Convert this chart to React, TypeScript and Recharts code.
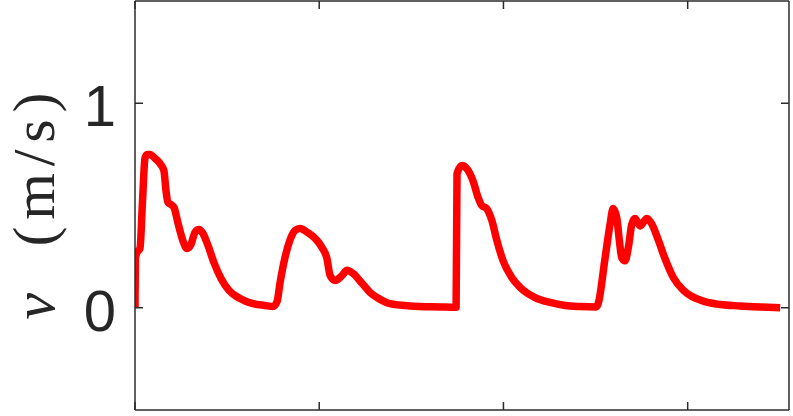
import React from 'react';
import { LineChart, Line, XAxis, YAxis } from 'recharts';

const timeValues = [
  0, 0.003, 0.011, 0.027, 0.041, 0.054, 0.065, 0.081, 0.109, 0.136, 0.157, 0.168, 0.179, 0.195, 0.212,
  0.233, 0.261, 0.282, 0.304, 0.326, 0.347, 0.369, 0.396, 0.429, 0.467, 0.51, 0.57, 0.635, 0.706, 0.749,
  0.771, 0.787, 0.814, 0.841, 0.869, 0.896, 0.934, 0.977, 1.015, 1.042, 1.059, 1.086, 1.124, 1.151, 1.184,
  1.232, 1.276, 1.314, 1.384, 1.493, 1.656, 1.743,
  1.748, 1.774, 1.801, 1.835, 1.862, 1.882, 1.909, 1.937, 1.964, 1.998, 2.045, 2.09, 2.172, 2.253, 2.335,
  2.416, 2.503,
  2.514, 2.552, 2.579, 2.595, 2.615, 2.629, 2.642, 2.66, 2.678, 2.697, 2.714, 2.742, 2.778, 2.805, 2.841,
  2.877, 2.922, 2.977, 3.013, 3.094, 3.176, 3.284, 3.393, 3.502,
];

const velocityValues = [
  0, 0.246, 0.27, 0.29, 0.525, 0.73, 0.75, 0.75, 0.73, 0.705, 0.67, 0.575, 0.515, 0.505, 0.49,
  0.415, 0.325, 0.29, 0.31, 0.37, 0.383, 0.363, 0.305, 0.22, 0.143, 0.085, 0.045, 0.021, 0.011, 0.006,
  0.03, 0.12, 0.245, 0.33, 0.378, 0.388, 0.37, 0.34, 0.295, 0.24, 0.158, 0.133, 0.158, 0.183, 0.167,
  0.12, 0.075, 0.05, 0.02, 0.009, 0.004, 0.002,
  0.655, 0.695, 0.68, 0.62, 0.54, 0.5, 0.485, 0.427, 0.33, 0.23, 0.148, 0.1, 0.05, 0.026, 0.011,
  0.006, 0.004,
  0.02, 0.245, 0.41, 0.485, 0.44, 0.33, 0.245, 0.23, 0.295, 0.41, 0.437, 0.4, 0.437, 0.41, 0.33,
  0.24, 0.148, 0.085, 0.06, 0.03, 0.016, 0.009, 0.004, 0,
];

const xTicks = [0, 1, 2, 3];
const yTicks = [0, 1];
const xDomain = [0, 3.55];
const yDomain = [-0.5, 1.5];
const yTickLabels = ['0', '1'];

const data = timeValues.map((t, i) => ({ t, v: velocityValues[i] }));

const AXIS_COLOR = '#2b2b2b';

const LeftTick = (props: any) => {
  const { x, y, payload } = props;
  const idx = yTicks.indexOf(payload.value);
  const label = idx >= 0 ? yTickLabels[idx] : String(payload.value);
  return (
    <text
      x={x}
      y={y + 23}
      textAnchor="end"
      fontFamily="'Liberation Sans', Arial, Helvetica, sans-serif"
      fontSize={58}
      fill="#262626"
    >
      {label}
    </text>
  );
};

const YLabel = (props: any) => {
  const vb = props.viewBox || { x: 0, y: 1, width: 135, height: 409 };
  const cy = vb.y + vb.height / 2;
  const bx = 54;
  return (
    <g fontFamily="'Liberation Serif', 'Times New Roman', serif" fontSize={60} fill="#262626">
      <text transform={`translate(${bx}, ${cy + 114}) rotate(-90)`} fontStyle="italic">
        v
      </text>
      <text
        transform={`translate(${bx}, ${cy + 41}) rotate(-90)`}
        textLength={154}
        lengthAdjust="spacing"
      >
        (m/s)
      </text>
    </g>
  );
};

const empty = () => '';

export default function App() {
  return (
    <div style={{ position: 'absolute', left: 0, top: 0 }}>
      <LineChart
        width={793}
        height={416}
        data={data}
        margin={{ top: 0, right: 0, bottom: 0, left: 0 }}
      >
        <XAxis
          xAxisId="bottom"
          dataKey="t"
          type="number"
          domain={xDomain}
          ticks={xTicks}
          allowDataOverflow
          height={6}
          tickSize={-8}
          tickFormatter={empty}
          stroke={AXIS_COLOR}
          strokeWidth={1.5}
          tickLine={{ stroke: AXIS_COLOR, strokeWidth: 1.5 }}
        />
        <XAxis
          xAxisId="top"
          orientation="top"
          dataKey="t"
          type="number"
          domain={xDomain}
          ticks={xTicks}
          allowDataOverflow
          height={1}
          tickSize={-8}
          tickFormatter={empty}
          stroke={AXIS_COLOR}
          strokeWidth={1.5}
          tickLine={{ stroke: AXIS_COLOR, strokeWidth: 1.5 }}
        />
        <YAxis
          yAxisId="left"
          type="number"
          domain={yDomain}
          ticks={yTicks}
          allowDataOverflow
          width={135}
          tickSize={-8}
          tickMargin={27}
          tick={<LeftTick />}
          stroke={AXIS_COLOR}
          strokeWidth={1.5}
          tickLine={{ stroke: AXIS_COLOR, strokeWidth: 1.5 }}
          label={<YLabel />}
        />
        <YAxis
          yAxisId="right"
          orientation="right"
          type="number"
          domain={yDomain}
          ticks={yTicks}
          allowDataOverflow
          width={4}
          tickSize={-8}
          tickFormatter={empty}
          stroke={AXIS_COLOR}
          strokeWidth={1.5}
          tickLine={{ stroke: AXIS_COLOR, strokeWidth: 1.5 }}
        />
        <Line
          xAxisId="bottom"
          yAxisId="left"
          dataKey="v"
          type="monotone"
          stroke="#ff0000"
          strokeWidth={7.5}
          strokeLinejoin="round"
          strokeLinecap="butt"
          dot={false}
          activeDot={false}
          isAnimationActive={false}
        />
      </LineChart>
    </div>
  );
}
